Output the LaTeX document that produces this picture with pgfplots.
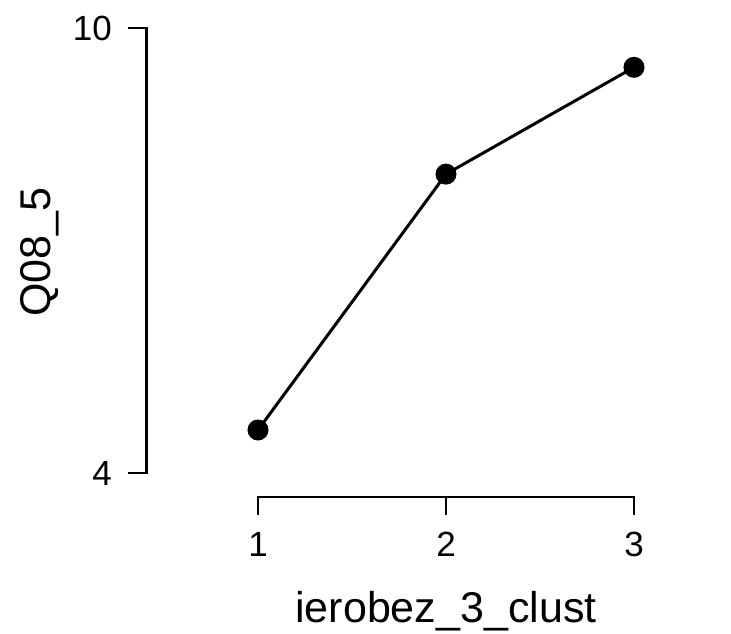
\documentclass[border=0pt]{standalone}
\usepackage{fontspec}
\setmainfont{Liberation Sans}
\usepackage{pgfplots}
\pgfplotsset{compat=1.18}
\begin{document}
\begin{tikzpicture}[x=1pt,y=1pt]
\path[use as bounding box] (0,0) rectangle (731,633);
\begin{axis}[
  at={(258pt,160pt)}, anchor=south west,
  scale only axis, width=376pt, height=445pt,
  xmin=1, xmax=3, ymin=4, ymax=10,
  hide axis, clip=false,
]
\addplot[black, line width=3pt, mark=*, mark size=9.5pt, mark options={fill=black, line width=2pt}]
  coordinates {(1,4.58) (2,8.03) (3,9.47)};
% y axis
\draw[black, line width=2.3pt] (axis cs:0.309,4) -- (axis cs:0.407,4) -- (axis cs:0.407,10) -- (axis cs:0.309,10);
% x axis
\draw[black, line width=2.3pt] (axis cs:1,3.434) -- (axis cs:1,3.676) -- (axis cs:3,3.676) -- (axis cs:3,3.434);
\draw[black, line width=2.3pt] (axis cs:2,3.676) -- (axis cs:2,3.434);
\node[anchor=east, inner sep=0pt, font=\fontsize{35}{40}\selectfont] at (axis cs:0.2234,4) {4};
\node[anchor=east, inner sep=0pt, font=\fontsize{35}{40}\selectfont] at (axis cs:0.2234,10) {10};
\node[anchor=center, inner sep=0pt, font=\fontsize{35}{40}\selectfont] at (axis cs:1,3.036) {1};
\node[anchor=center, inner sep=0pt, font=\fontsize{35}{40}\selectfont] at (axis cs:2,3.036) {2};
\node[anchor=center, inner sep=0pt, font=\fontsize{35}{40}\selectfont] at (axis cs:3,3.036) {3};
\node[anchor=base, inner sep=0pt, font=\fontsize{43}{50}\selectfont] at (axis cs:2,1.978) {ierobez\_3\_clust};
\node[anchor=base, rotate=90, inner sep=0pt, font=\fontsize{43}{50}\selectfont] at (axis cs:-0.106,6.98) {Q08\_5};
\end{axis}
\end{tikzpicture}
\end{document}
